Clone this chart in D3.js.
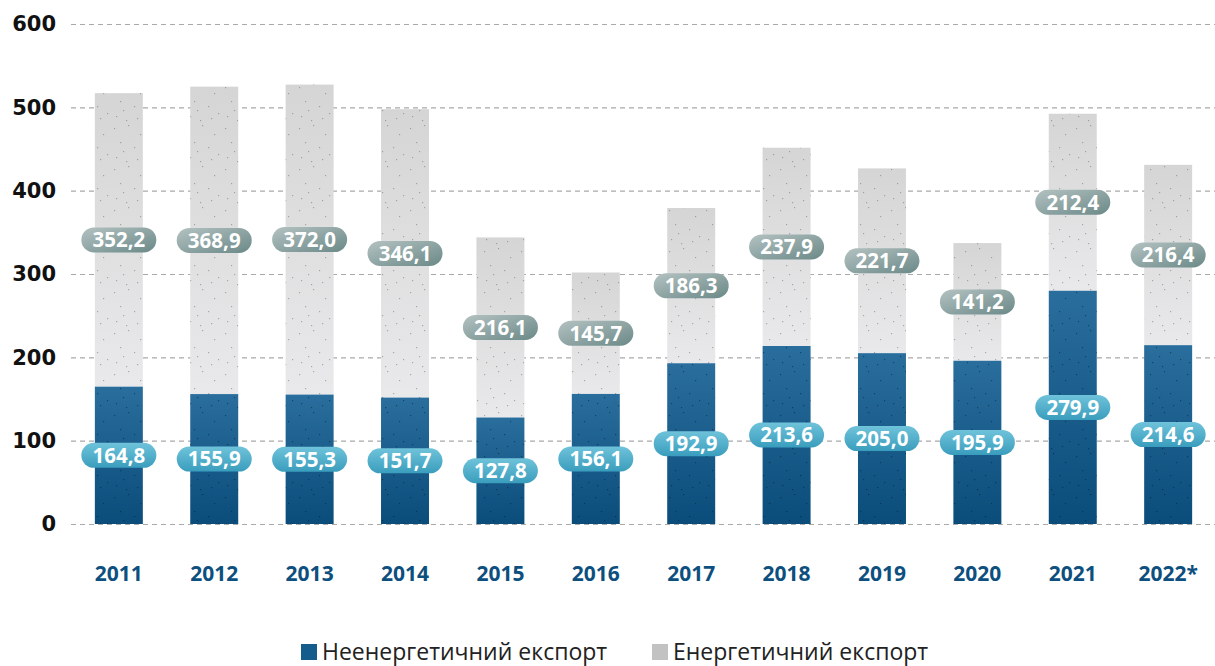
<!DOCTYPE html>
<html>
<head>
<meta charset="utf-8">
<script src="https://cdn.jsdelivr.net/npm/d3@7"></script>
<style>
    body { margin: 0; background: #fff; }
    svg { display: block; font-family: "Open Sans", "DejaVu Sans", sans-serif; }
</style>
</head>
<body>
<div id="chart"></div>
<script>
const years = ['2011', '2012', '2013', '2014', '2015', '2016', '2017', '2018', '2019', '2020', '2021', '2022*'];
const nonEnergy = [164.8, 155.9, 155.3, 151.7, 127.8, 156.1, 192.9, 213.6, 205.0, 195.9, 279.9, 214.6];
const energy = [352.2, 368.9, 372.0, 346.1, 216.1, 145.7, 186.3, 237.9, 221.7, 141.2, 212.4, 216.4];
const yTicks = [0, 100, 200, 300, 400, 500, 600];
const seriesNames = ['Неенергетичний експорт', 'Енергетичний експорт'];

const width = 1215, height = 666;
const fmt = v => v.toFixed(1).replace('.', ',');

const svg = d3.select('#chart').append('svg')
    .attr('width', width)
    .attr('height', height);

const defs = svg.append('defs');

function gradient(id, top, bottom) {
    const g = defs.append('linearGradient')
        .attr('id', id)
        .attr('x1', 0).attr('y1', 0).attr('x2', 0).attr('y2', 1);
    g.append('stop').attr('offset', '0%').attr('stop-color', top);
    g.append('stop').attr('offset', '100%').attr('stop-color', bottom);
}
gradient('blueGrad', '#2a6e9d', '#0a4c7a');
gradient('greyGrad', '#d5d5d5', '#e9e9eb');
gradient('pillBlue', '#6fc3da', '#3a9dbd');
defs.append('linearGradient')
    .attr('id', 'pillGrey')
    .attr('x1', 0).attr('y1', 0).attr('x2', 1).attr('y2', 1)
    .call(g => {
        g.append('stop').attr('offset', '0%').attr('stop-color', '#b4c2c1');
        g.append('stop').attr('offset', '100%').attr('stop-color', '#6a8988');
    });

// speckle texture (decorative)
function speckle(id, color) {
    const p = defs.append('pattern')
        .attr('id', id)
        .attr('patternUnits', 'userSpaceOnUse')
        .attr('width', 37).attr('height', 41);
    [[3, 5], [17, 2], [29, 11], [9, 19], [23, 24], [33, 31], [5, 34], [15, 38], [26, 36], [12, 28]]
        .forEach(d => p.append('rect').attr('x', d[0]).attr('y', d[1])
            .attr('width', 1.2).attr('height', 1.2).attr('fill', color));
}
speckle('dotsBlue', 'rgba(0,20,40,0.45)');
speckle('dotsGrey', 'rgba(90,90,90,0.45)');

const x = d3.scaleBand()
    .domain(years)
    .range([71, 1216])
    .paddingInner(0.497)
    .paddingOuter(0.25);

const y = d3.scaleLinear()
    .domain([0, 600])
    .range([524, 24]);

// grid + y labels
const yAxis = d3.axisLeft(y)
    .tickValues(yTicks)
    .tickSize(-(1215 - 71))
    .tickFormat(d3.format('d'));

svg.append('g')
    .attr('class', 'y-axis')
    .attr('transform', 'translate(71,0)')
    .call(yAxis)
    .call(g => g.select('.domain').remove())
    .call(g => g.selectAll('.tick line')
        .attr('stroke', '#a9a9a9')
        .attr('stroke-width', 1.2)
        .attr('stroke-dasharray', '5,4'))
    .call(g => g.selectAll('.tick text')
        .attr('x', -15)
        .attr('text-anchor', 'end')
        .attr('fill', '#111')
        .attr('font-family', '"DejaVu Sans", sans-serif')
        .attr('font-size', 21)
        .attr('font-weight', 700));

const bars = svg.append('g');

years.forEach((yr, i) => {
    const x0 = x(yr), bw = x.bandwidth();
    const ne = nonEnergy[i], en = energy[i];
    // energy (grey) stacked on top
    bars.append('rect')
        .attr('x', x0).attr('width', bw)
        .attr('y', y(ne + en)).attr('height', y(ne) - y(ne + en))
        .attr('fill', 'url(#greyGrad)');
    bars.append('rect')
        .attr('x', x0).attr('width', bw)
        .attr('y', y(ne + en)).attr('height', y(ne) - y(ne + en))
        .attr('fill', 'url(#dotsGrey)');
    bars.append('rect')
        .attr('x', x0).attr('width', bw)
        .attr('y', y(ne)).attr('height', y(0) - y(ne))
        .attr('fill', 'url(#blueGrad)');
    bars.append('rect')
        .attr('x', x0).attr('width', bw)
        .attr('y', y(ne)).attr('height', y(0) - y(ne))
        .attr('fill', 'url(#dotsBlue)');
});

// value pills
function pill(cx, cy, text, fill) {
    const g = svg.append('g').attr('transform', `translate(${cx},${cy})`);
    g.append('rect')
        .attr('x', -37.5).attr('y', -12.5)
        .attr('width', 75).attr('height', 25)
        .attr('rx', 12.5)
        .attr('fill', fill);
    g.append('text')
        .attr('text-anchor', 'middle')
        .attr('dy', '0.36em')
        .attr('fill', '#fff')
        .attr('font-size', 20.5)
        .attr('font-weight', 700)
        .text(text);
}

years.forEach((yr, i) => {
    const cx = x(yr) + x.bandwidth() / 2;
    const ne = nonEnergy[i], en = energy[i];
    pill(cx, y(ne / 2), fmt(ne), 'url(#pillBlue)');
    pill(cx, y(ne + en / 2), fmt(en), 'url(#pillGrey)');
});

// x labels
svg.append('g')
    .selectAll('text')
    .data(years)
    .join('text')
    .attr('x', d => x(d) + x.bandwidth() / 2)
    .attr('y', 581)
    .attr('text-anchor', 'middle')
    .attr('fill', '#0d4f7e')
    .attr('font-size', 21)
    .attr('font-weight', 700)
    .text(d => d);

// legend
const legend = svg.append('g').attr('transform', 'translate(301,652)');
const legendItems = [
    { name: seriesNames[0], color: '#145c8c', x: 0 },
    { name: seriesNames[1], color: '#c2c2c2', x: 351 }
];
legendItems.forEach(d => {
    legend.append('rect')
        .attr('x', d.x).attr('y', -8)
        .attr('width', 16).attr('height', 16)
        .attr('fill', d.color);
    legend.append('text')
        .attr('x', d.x + 21).attr('y', 0)
        .attr('dy', '0.35em')
        .attr('fill', '#222')
        .attr('font-size', 23)
        .text(d.name);
});
</script>
</body>
</html>
